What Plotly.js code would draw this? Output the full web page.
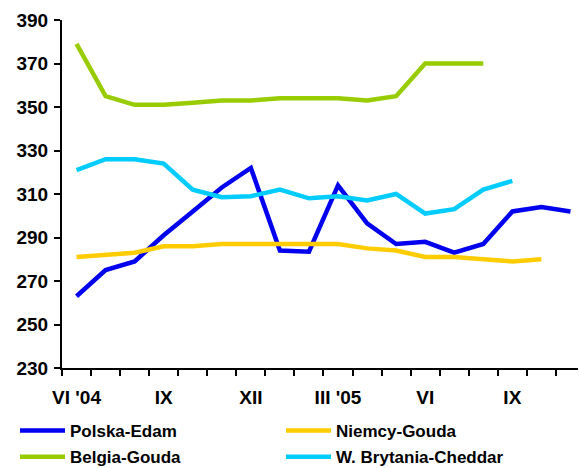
<!DOCTYPE html>
<html>
<head>
<meta charset="utf-8">
<script src="https://cdn.plot.ly/plotly-3.0.1.min.js"></script>
<style>html,body{margin:0;padding:0;overflow:hidden;background:#fff;}</style>
</head>
<body>
<div id="chart" style="width:579px;height:468px;"></div>
<script>
const months = ["VI '04","VII","VIII","IX","X","XI","XII","I '05","II","III '05","IV","V","VI","VII","VIII","IX","X","XI"];
const tickLabels = ["VI '04","IX","XII","III '05","VI","IX"];
const tickIdx = [0,3,6,9,12,15];

const polskaEdam = [263,275,279,291,302,313,322,284,283.5,314,296.5,287,288,283,287,302,304,302];
const niemcyGouda = [281,282,283,286,286,287,287,287,287,287,285,284,281,281,280,279,280];
const belgiaGouda = [379,355,351,351,352,353,353,354,354,354,353,355,370,370,370];
const wbCheddar = [321,326,326,324,312,308.5,309,312,308,309,307,310,301,303,312,316];

const F = "Liberation Sans, Arial, sans-serif";
function tr(name, vals, color, legend, group) {
  return {
    type: 'scatter', mode: 'lines', name: name,
    x: vals.map((_, i) => i), y: vals,
    line: {color: color, width: 4.5},
    legend: legend, legendgroup: group,
    hoverinfo: 'skip'
  };
}
const data = [
  tr('Polska-Edam', polskaEdam, '#0000EE', 'legend', 'a'),
  tr('Belgia-Gouda', belgiaGouda, '#99CC00', 'legend', 'b'),
  tr('Niemcy-Gouda', niemcyGouda, '#FFCC00', 'legend2', 'c'),
  tr('W. Brytania-Cheddar', wbCheddar, '#00CCFF', 'legend2', 'd')
];
const legFont = {family: F, size: 17, color: '#000', weight: 'bold'};
const tickFont = {family: F, size: 19, color: '#000', weight: 'bold'};
const layout = {
  width: 579, height: 468,
  margin: {l: 62, r: 1, t: 20, b: 100, autoexpand: false},
  paper_bgcolor: '#fff', plot_bgcolor: '#fff',
  showlegend: true,
  font: {family: F, size: 17, color: '#000', weight: 'bold'},
  xaxis: {
    range: [-0.5, 17.26], showgrid: false, zeroline: false, automargin: false,
    showline: true, linecolor: '#000', linewidth: 2,
    tickmode: 'array', tickvals: tickIdx, ticktext: tickLabels,
    ticks: '', ticklen: 0, ticklabelstandoff: 11,
    tickfont: tickFont,
    minor: {tickmode: 'linear', tick0: -0.5, dtick: 1, ticks: 'outside', ticklen: 6, tickwidth: 2, tickcolor: '#000', showgrid: false}
  },
  yaxis: {
    range: [230, 390], showgrid: false, zeroline: false, automargin: false,
    showline: true, linecolor: '#000', linewidth: 2,
    tickmode: 'linear', tick0: 230, dtick: 20,
    ticks: 'outside', ticklen: 6, tickwidth: 2, tickcolor: '#000',
    ticklabelstandoff: 2,
    tickfont: tickFont
  },
  legend: {
    xref: 'container', yref: 'container',
    x: 15/579, xanchor: 'left', y: 1 - 413/468, yanchor: 'top',
    orientation: 'v', font: legFont, itemwidth: 45, tracegroupgap: 1,
    bgcolor: 'rgba(0,0,0,0)'
  },
  legend2: {
    xref: 'container', yref: 'container',
    x: 281/579, xanchor: 'left', y: 1 - 413/468, yanchor: 'top',
    orientation: 'v', font: legFont, itemwidth: 45, tracegroupgap: 1,
    bgcolor: 'rgba(0,0,0,0)'
  }
};
Plotly.newPlot('chart', data, layout, {displayModeBar: false, staticPlot: true});
</script>
</body>
</html>
